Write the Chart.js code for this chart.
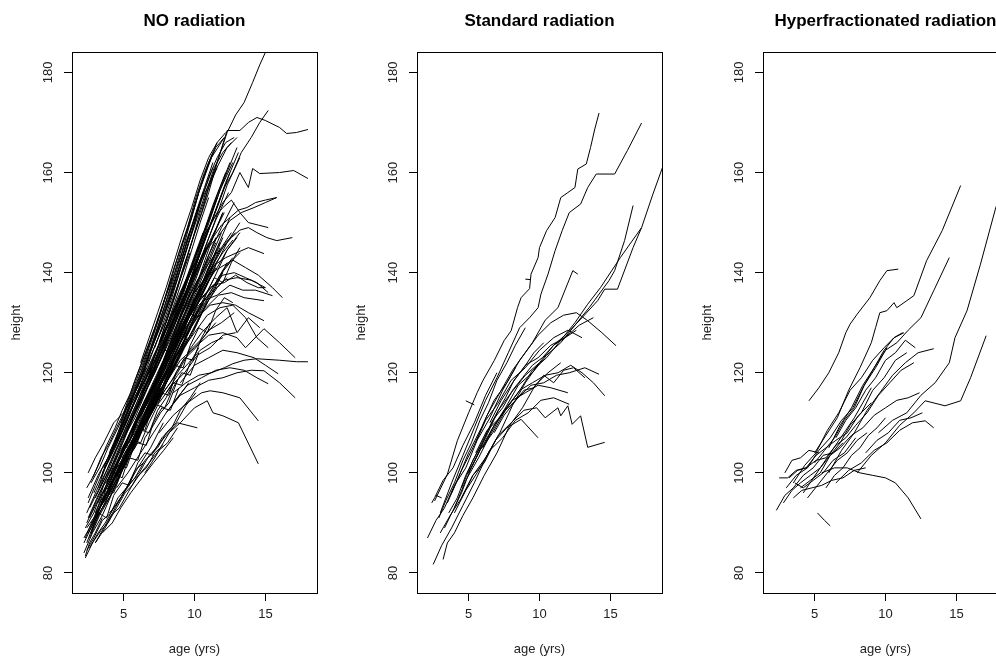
<!DOCTYPE html>
<html><head><meta charset="utf-8">
<script src="https://cdn.jsdelivr.net/npm/chart.js@4.4.0/dist/chart.umd.min.js"></script>
<style>
html,body{margin:0;padding:0;background:#fff;overflow:hidden;width:996px;height:659px;position:relative}
.p{position:absolute;top:0;width:345px;height:659px}
</style></head><body>
<div class="p" style="left:0"><canvas id="c1" width="345" height="659"></canvas></div>
<div class="p" style="left:340px"><canvas id="c2" width="345" height="659"></canvas></div>
<div class="p" style="left:680px"><canvas id="c3" width="345" height="659"></canvas></div>
<script>
const panelTitles = ['NO radiation', 'Standard radiation', 'Hyperfractionated radiation'];
const xTickValues = [5, 10, 15];
const yTickValues = [80, 100, 120, 140, 160, 180];

// ---- NO radiation: one row per child (ages in years, heights in cm) ----
const noRadAges = [
[2.2,2.8,3.5,4.2,5.0,5.9,6.8,7.6],
[2.4,3.0,3.7,4.5,5.3,6.1,7.0,8.0,9.0],
[2.3,2.9,3.6,4.4,5.2,6.0,6.9,7.8,8.8,9.7],
[2.5,3.2,4.0,4.8,5.6,6.5,7.4,8.3,9.2,10.1,11.0],
[2.6,3.3,4.1,5.0,5.8,6.7,7.6,8.5,9.5,10.4],
[2.2,2.9,3.5,4.3,5.1,6.0,6.8],
[2.7,3.4,4.2,5.0,5.9,6.8,7.7,8.6],
[3.0,3.7,4.5,5.4,6.2,7.1,8.0,9.0,9.9,10.8],
[2.4,3.1,3.9,4.7,5.6,6.5,7.3],
[3.2,4.0,4.8,5.7,6.6,7.5,8.4,9.3,10.2,11.1,12.0],
[2.8,3.5,4.3,5.1,6.0,6.9,7.9,8.8,9.7],
[3.5,4.3,5.2,6.1,7.0,7.9,8.8,9.7,10.6],
[2.5,3.2,3.9,4.7,5.5,6.3],
[3.3,4.1,4.9,5.8,6.7,7.6,8.5,9.5,10.5,11.5],
[4.0,4.8,5.7,6.6,7.5,8.4,9.3,10.2,11.1,12.0,13.0],
[4.2,5.0,5.9,6.8,7.7,8.6,9.6,10.6,11.5],
[3.8,4.6,5.5,6.4,7.3,8.2,9.1,10.0],
[4.5,5.3,6.2,7.1,8.0,8.9,9.8,10.7,11.6,12.5],
[5.0,5.8,6.7,7.6,8.5,9.4,10.3,11.2],
[4.8,5.6,6.5,7.4,8.3,9.2,10.1,11.0,11.9],
[5.5,6.3,7.2,8.1,9.0,9.9,10.8,11.7],
[5.2,6.0,6.9,7.8,8.7,9.6,10.5],
[6.0,6.8,7.7,8.6,9.5,10.4,11.3,12.2,13.1],
[5.8,6.6,7.5,8.4,9.3,10.2,11.1,12.0],
[6.3,7.1,8.0,8.9,9.8,10.7,11.6,12.5],
[6.5,7.3,8.2,9.1,10.0,10.9,11.8],
[6.8,7.6,8.5,9.4,10.3,11.2,12.1],
[7.0,7.8,8.7,9.6,10.5,11.4,12.3,13.2],
[7.2,8.0,8.9,9.8,10.7,11.6],
[7.5,8.3,9.2,10.1,11.0,11.9,12.8],
[7.8,8.6,9.5,10.4,11.3,12.2],
[8.0,8.8,9.7,10.6,11.5],
[8.3,9.1,10.0,10.9,11.8,12.7],
[8.5,9.3,10.2,11.1,12.0],
[4.0,4.8,5.6,6.5,7.4,8.3,9.2],
[3.0,3.8,4.6,5.5,6.4,7.3,8.2,9.1],
[2.4,3.1,3.8,4.6,5.4,6.3,7.2,8.1],
[2.9,3.6,4.4,5.2,6.1,7.0],
[3.6,4.4,5.2,6.1,7.0,7.9,8.8,9.7,10.6,11.5],
[4.6,5.4,6.3,7.2,8.1,9.0,9.9,10.8],
[5.6,6.4,7.3,8.2,9.1,10.0,10.9],
[6.1,6.9,7.8,8.7,9.6,10.5,11.4,12.3,13.2],
[6.6,7.4,8.3,9.2,10.1,11.0],
[7.4,8.2,9.1,10.0,10.9,11.8],
[3.4,4.2,5.0,5.9,6.8,7.7,8.6,9.5],
[2.6,3.3,4.0,4.8,5.6,6.5,7.4],
[5.3,6.1,7.0,7.9,8.8,9.7,10.6,11.5,12.4],
[4.4,5.2,6.1,7.0,7.9,8.8,9.7],
[8.8,9.6,10.5,11.4,12.3,13.2],
[9.0,9.8,10.7,11.6,12.5],
[5.0,5.8,6.7,7.6,8.5,9.4,10.3,11.2,12.1],
[6.0,6.8,7.7,8.6,9.5,10.4,11.3],
[7.0,7.8,8.7,9.6,10.5,11.4,12.3,13.0],
[7.5,8.1,8.7,9.3,9.9,10.5,11.1,11.7,12.3,12.9,13.5,14.1,14.6,15.0,15.5],
[8.0,8.6,9.2,9.8,10.4,11.0,11.6,12.3,13.2,13.8,14.4,15.0,16.0,16.5,17.2,18.0],
[8.5,9.1,9.7,10.3,10.9,11.5,12.1,12.7,13.3,14.0,14.6,15.2],
[7.8,8.4,9.0,9.6,10.2,10.8,11.4,12.0,12.6,13.2,13.8,14.1,14.6,16.0,17.0,18.0],
[9.0,9.6,10.2,10.8,11.4,12.0,12.6,13.2,13.8,14.4,15.1,15.8,16.9],
[9.5,10.1,10.7,11.3,11.9,12.5,13.1,13.7,14.3,15.0,15.8],
[10.2,10.8,11.4,12.0,12.6,13.2,13.8,14.5,15.2],
[8.0,8.9,9.8,10.7,11.6,12.5,13.4,14.3,15.5],
[8.5,9.4,10.3,11.2,12.1,13.0,14.0,15.0],
[9.0,9.9,10.8,11.7,12.6,13.5,14.9],
[9.3,10.2,11.1,12.0,12.9,13.8,14.9],
[8.2,9.1,10.0,10.9,11.8,12.7,13.6,14.4,15.2],
[10.0,10.9,11.8,12.7,13.6,14.5,15.5,16.2],
[8.0,9.0,10.0,11.0,12.0,13.0,13.6,14.9,16.0,17.1],
[8.5,9.4,10.3,11.2,12.1,12.7,13.5,14.4,16.0,17.2,18.0],
[8.0,9.0,10.0,11.0,12.0,13.0,14.0,14.9,16.0,17.1],
[9.0,10.0,11.0,12.0,13.0,14.2,15.0,15.9],
[8.5,9.5,10.5,11.5,12.5,13.5,14.4,15.2],
[7.5,8.5,9.5,10.5,11.1,12.0,13.2,14.5],
[7.0,8.0,9.0,10.0,10.9,11.3,12.0,13.1,14.5],
[6.5,7.2,7.8,8.3,8.8,10.2],
[9.5,10.5,11.5,12.3,13.0,13.8,14.6],
[10.5,11.3,12.1,12.9,13.7,14.5,15.0],
[9.6,10.4,11.2,12.0,12.8,13.6,14.4,15.2],
[9.0,9.8,10.6,11.4,12.2,13.0,13.8,14.9],
[10.0,10.8,11.6,12.5,13.3,14.2,15.0,15.8],
[7.5,8.4,9.3,10.2,11.1,12.0,12.9],
[8.0,8.8,9.6,10.4,11.2,12.0],
[6.5,7.4,8.3,9.2,10.1,11.0,11.9,12.8],
[7.0,7.9,8.8,9.7,10.6,11.5],
[2.5,3.0,3.6,4.3,5.0,5.8,6.6],
[2.7,3.3,3.9,4.6,5.4,6.2,7.0,7.9],
[3.5,4.2,4.8,5.5,6.3,7.1,7.8,8.5],
[3.0,3.7,4.4,5.2,6.0,6.9,7.8],
[2.3,2.6,3.0,3.5],
[4.5,5.3,6.2,7.1,8.0,8.8,9.6],
[2.3,2.8,3.4,3.9,4.5,5.1,5.6,6.2,6.8,7.5,8.1,8.8],
[2.6,3.2,3.7,4.3,4.9,5.5,6.1,6.8,7.4,8.0,8.7,9.4,10.1],
[3.0,3.6,4.1,4.7,5.3,5.9,6.6,7.2,7.8],
[2.4,2.9,3.5,4.1,4.6,5.2,5.8,6.4],
[4.0,4.6,5.2,5.8,6.5,7.1,7.7,8.4,9.0,9.7,10.4],
[2.2,2.7,3.2,3.8,4.3,4.9,5.4,6.0,6.6,7.2,7.8],
[2.5,3.0,3.5,4.1,4.6,5.2,5.8,6.3,6.9,7.5,8.2,8.8,9.5],
[2.8,3.3,3.9,4.4,5.0,5.6,6.2,6.8,7.4,8.0,8.7,9.3],
[3.1,3.7,4.2,4.8,5.4,6.0,6.6,7.3,7.9,8.5,9.2,9.9,10.5],
[2.4,2.9,3.4,4.0,4.5,5.1,5.7,6.3],
[3.4,4.0,4.5,5.1,5.7,6.3,6.9,7.5,8.1,8.8,9.4,10.1,10.8,11.5],
[4.2,4.8,5.3,5.9,6.5,7.1,7.7,8.3,9.0,9.6,10.3],
[4.7,5.2,5.8,6.4,7.0,7.6,8.2,8.9,9.5,10.2,10.9,11.6,12.3],
[5.1,5.7,6.3,6.9,7.5,8.1,8.7,9.4,10.0,10.7],
[5.6,6.2,6.8,7.4,8.0,8.6,9.3,9.9,10.6,11.3,12.0],
[6.0,6.6,7.2,7.9,8.5,9.1,9.8,10.4,11.1,11.8,12.5,13.2],
[6.5,7.1,7.7,8.4,9.0,9.6,10.3,11.0,11.6,12.3],
[3.0,3.5,4.1,4.6,5.2,5.8,6.4,7.0,7.6,8.2,8.9,9.5,10.2,10.9],
[3.6,4.2,4.7,5.3,5.9,6.5,7.1,7.7,8.4,9.0,9.7],
[2.3,2.8,3.3,3.9,4.4,5.0,5.5,6.1,6.7,7.3],
[4.4,5.0,5.5,6.1,6.7,7.3,7.9,8.6,9.2,9.9,10.6,11.3],
[5.3,5.9,6.5,7.1,7.8,8.4,9.0,9.7,10.4,11.1],
[7.0,7.6,8.2,8.9,9.5,10.2,10.9,11.6,12.3,13.0],
[7.5,8.1,8.8,9.4,10.1,10.8,11.5,12.2,12.9],
[6.2,6.8,7.4,8.0,8.7,9.3,10.0,10.7,11.4],
[3.9,4.5,5.0,5.6,6.2,6.8,7.4,8.0,8.7],
[2.6,3.1,3.7,4.2,4.8,5.3,5.9,6.5,7.1,7.7,8.3],
[4.9,5.5,6.1,6.7,7.3,7.9,8.6,9.2,9.9,10.6,11.3,12.0,12.7],
[8.0,8.6,9.3,9.9,10.6,11.3,12.0,12.7],
[8.5,9.1,9.8,10.5,11.2,11.9,12.6],
[2.5,3.0,3.5,4.1,4.6,5.2,5.7,6.3,6.9,7.5,8.1,8.7,9.3,9.9,10.5],
[3.2,3.7,4.3,4.8,5.4,5.9,6.5,7.1,7.7,8.3,8.9,9.5,10.1,10.7,11.3],
[4.0,4.6,5.1,5.7,6.2,6.8,7.4,8.0,8.6,9.2,9.8,10.4,11.0,11.6],
[4.8,5.3,5.9,6.5,7.1,7.7,8.3,8.9,9.5,10.1,10.7,11.3],
[5.5,6.1,6.7,7.3,7.9,8.5,9.1,9.7,10.3,10.9,11.5,12.1],
[2.8,3.3,3.8,4.4,4.9,5.5,6.0,6.6,7.2,7.8,8.4],
[3.6,4.1,4.7,5.2,5.8,6.4,7.0,7.6,8.2,8.8,9.4,10.0,10.6],
[6.2,6.8,7.4,8.0,8.6,9.2,9.8,10.4,11.0,11.6,12.2],
[5.0,5.6,6.2,6.8,7.4,8.0,8.6,9.2,9.8,10.4,11.0],
[6.8,7.4,8.0,8.6,9.2,9.8,10.4,11.0,11.6],
[7.2,7.8,8.4,9.0,9.6,10.2,10.8,11.4,12.0,12.6],
[4.4,5.0,5.5,6.1,6.7,7.3,7.9,8.5,9.1,9.7],
[2.4,2.9,3.4,4.0,4.5,5.1,5.6,6.2],
[8.0,8.6,9.2,9.8,10.4,11.0,11.6,12.2,12.8],
[3.3,3.8,4.3,4.9,5.4,6.0,6.5,7.1,7.6,8.2,8.8],
[4.1,4.6,5.2,5.7,6.3,6.8,7.4,8.0,8.5,9.1,9.7,10.3],
[5.4,5.9,6.5,7.0,7.6,8.2,8.7,9.3,9.9,10.5,11.1],
[6.3,6.9,7.4,8.0,8.6,9.2,9.7,10.3,10.9,11.5,12.1,12.7],
[2.7,3.2,3.8,4.3,4.9,5.4,6.0,6.5,7.1],
[4.6,5.1,5.7,6.2,6.8,7.4,7.9,8.5,9.1,9.7,10.3],
[7.3,7.9,8.4,9.0,9.6,10.2,10.8,11.4,12.0,12.6,13.2],
[3.8,4.3,4.9,5.4,6.0,6.6,7.1,7.7,8.3,8.9]
];
const noRadHeights = [
[84,88,91.5,96,101.5,106,112,117],
[86,90.5,94,99,104.5,109,115,120.5,127],
[89,92,97.5,101,106,111.5,117,122.5,130,136],
[91,95.5,100,105,110.5,116,121.5,128,134,140.5,146],
[93,97,102.5,108,113,119.5,125,131,138.5,144],
[87,90.5,94,99,103.5,108,112],
[88,92.5,96,101,106.5,111,116,121.5],
[95,99,104.5,110,115,121.5,127,133,139.5,145],
[92,96.5,101,106,112,117.5,122],
[94,99,104,109.5,115,120,126.5,132,138,145.5,152],
[90,94,98.5,103,108,113.5,118,124,129],
[100,105,110.5,116,122,128.5,134,141,148],
[95,99.5,103,108,113.5,118],
[97,101,106.5,111,117,122.5,128,134.5,140,147],
[103,108.5,114,119,125.5,131,137,144.5,151,158,165],
[100,105,110.5,115,121,126.5,132,138,144],
[98,103.5,108,113,118.5,124,129,135],
[106,111,117.5,123,129,135.5,141,148,155.5,162],
[107,112.5,118,124,130.5,136,143,150],
[104,109,114.5,119,125,130.5,136,142,148],
[110,115.5,121,127,133.5,140,147,154],
[105,110.5,115,120,126.5,132,137],
[113,118,124.5,130,137,144.5,151,158,164],
[112,117.5,122,128,134.5,140,146,152],
[116,121,127.5,133,139,146.5,153,160],
[112,117.5,122,128,133.5,139,145],
[118,123.5,129,135,141.5,147,152],
[115,120.5,125,131,136.5,141,146,150],
[122,128.5,134,141,148.5,155],
[120,125.5,131,137,143.5,149,154],
[126,132.5,139,146,153.5,160],
[123,128.5,134,140,146],
[129,135.5,142,149,156.5,162],
[125,130.5,136,141,147],
[97,101.5,106,111,116.5,121,126],
[92,97.5,102,107,113.5,118,124,130],
[90,94.5,99,104,109.5,115,120,126],
[96,100.5,105,110,116.5,121],
[96,100.5,104,109,114.5,119,125,130.5,136,141],
[102,107.5,112,118,124.5,131,138,145],
[108,113.5,119,125,131.5,138,145],
[110,114.5,119,124,129.5,134,139,144.5,148],
[114,119.5,125,131,137.5,143],
[118,123.5,128,134,140.5,146],
[99,104.5,109,115,121.5,127,133,139],
[87,91.5,95,100,105.5,110,115],
[109,114.5,120,126,132.5,138,144,150.5,156],
[105,110.5,116,122,128.5,134,140],
[130,136.5,143,150,157.5,163],
[128,133.5,139,145,151],
[112,118.5,125,132,140.5,148,156,163,167],
[117,123.5,130,138,146.5,154,161],
[125,131.5,138,146,154.5,160,165,167],
[126,131,136,141.5,147,152,158,163,168,171.5,174,178,181.5,184,187],
[130,135,140.5,146,151,156,162,168.4,168.4,170,171,170.4,169,167.8,168,168.6],
[129,133.5,138,143,148,152.5,157,160,164,167,170,172.4],
[125,129.5,134,139,143,147.5,151,154,156,160,157,160.8,159.8,160,160.4,158.8],
[131,135,138.5,141,143.5,145,147,148.5,149,148,147,146.4,147],
[137,140.5,144,147,149.5,151,152.5,153,154,154.5,155],
[144,148,151,153,154.5,152,150,149.5,149],
[122,127.5,130.5,134.5,135.5,137.5,136.5,136.5,135.4],
[124,129,133.5,136,138.5,139,138.5,137],
[126,130.5,133,135.5,136,135,134.4],
[127,131,133.5,134,133.5,132,130.4],
[120,124.5,128,131.5,133,133.5,131,127,125],
[136,139.5,141,142.5,141,139.5,137,135],
[118,122.5,125,127.5,128,127,125,128.8,126,123],
[116,118,119.5,120,121,121.8,122.5,122.8,122.5,122.2,122.2],
[112,115.5,117,118.5,119,120,120.5,120.4,118,115],
[118,121.5,123,124.5,124,123,121.5,119.8],
[114,117.5,119,120.5,121,120.5,119,117.8],
[108,111.5,114,116,116.4,116,115,110.4],
[104,107.5,110,113,114.4,112,111.4,110,101.8],
[100,103,106,108.4,110,109],
[124,128,131,133,128,131,129],
[135,137.5,138,139.5,138,137,137],
[131,134.5,137,139.5,140,139,138,136],
[131,135.5,138,141.5,143,144,145,143.8],
[140,144.5,147,150.4,152,153,154,155],
[114,117.5,120,123.5,125,127.5,128],
[116,119.5,122,124.5,126,127],
[110,114.5,118,122.5,125,128.5,130,132],
[112,116.5,120,124.5,127,130],
[100,103,106,110,112,116,121],
[98,101,105,109,114,119,124,130],
[88,90,93,96,99,102,104.4,107],
[86,89,93,97,101,105,110],
[83.4,86,88,91],
[97,100,104,108,112,115,118],
[83,86,88.5,90,93,96,97.5,100,102,104.5,106,109],
[85,88,90,93,95.5,98,100,103.5,105,108,110,113.5,116],
[86,89,91.5,93,96,99,101,104,105.5],
[84.5,87,90.5,92,95,97,100.5,102],
[92,94,97,99,102.5,104,107,109,112.5,115,118],
[86,89,92.5,95,98.5,101,104.5,108,111,114.5,117],
[88,90.5,94,96,99.5,103,106,109.5,112,116,119.5,123,127],
[90,93,95.5,99,102,105.5,108,112,115,119,122,126.5],
[92,95.5,98,101.5,104,108,111,115.5,118,122,126,130.5,134],
[89,91,94.5,97,100,103.5,106,110],
[94,97,100.5,103,107,110,114,117.5,121,125,128.5,133,137,141.5],
[98,101.5,104,107.5,110,114,117,121,125,128,132.5],
[100,103,106.5,109,112.5,116,119,123,126.5,130,134.5,138,142],
[104,107,110.5,113,117,120,123.5,127,131,134],
[105,108.5,111,114.5,118,121,125,128,132.5,136,140],
[108,111.5,115,118,122,125,129.5,132,136,139.5,142,144],
[110,113,117,120.5,124,127,131,134.5,137,139],
[90.5,93,96.5,99,102.5,105,109,112,116,119,123,126.5,130,134],
[96,99,102.5,106,108.5,112,115.5,119,122,126,129],
[87,90.5,93,96,99,101.5,105,108,111.5,114],
[101,104.5,107,111,114,118,121.5,125,129,133,136.5,140],
[106,109,113,116.5,120,124,127,131.5,135,139],
[116,119.5,123,127,130.5,134,138,141,144.5,147],
[120,123,127,130.5,135,139,142.5,146,148],
[112,115.5,119,122,126.5,130,134,138,142],
[97,100,103.5,106,110,113.5,116,120,123.5],
[91,94,97,100.5,103,106.5,110,113,117,120,124],
[103,106,109.5,112,116,119.5,123,126,130.5,134,137,140.5,143],
[122,126,129.5,133,137,141,144,146.5],
[126,129.5,133,137.5,141,145,148],
[94,97.5,101,104,108,112,116,120.5,125,130,135,140,145.5,150,155],
[97,101,104.5,109,113,117,121.5,126,131,136,141,146.5,152,157,162],
[104,108,112,116.5,120,125,130,135.5,140,146,151,157,162,166],
[110,114,118.5,123,128,133,138,144,149,155,160,164],
[114,118,123,128,133.5,139,144,150,156,161,165,167],
[99,102,105.5,109,112.5,116,120,124.5,129,134,139],
[101,104.5,108,112,116,120,125,129.5,134,139,144.5,150,156],
[122,127,132,137,142.5,148,153,158.5,163,166,168],
[107,111,115,119.5,124,129,134,139,144.5,150,155],
[120,125,130,135.5,141,146,152,157,161],
[125,130,135,140.5,146,151,156,161,164,166],
[106,110,113.5,117,121.5,126,130,135,139.5,144],
[97,99.5,103,106,109,112.5,115,118.5],
[133,138,143.5,149,154,159,163,166,167],
[93,97,96,100.5,103,102.5,107,109.5,112,114,118.5],
[99,101.5,101,105,108.5,108,112.5,115,118,117.5,122,125],
[106,109.5,108.5,113,116,115.5,120,123,122.5,127,130],
[110,114,113.5,118,121.5,121,125.5,129,128,132.5,135,134],
[88,92,91,95.5,98,97.5,102,104,103.5],
[101,103,106.5,106,110,113.5,113,117,120,119.5,124],
[121,124.5,124,128.5,132,131,135.5,139,138,142,145],
[96,100,99,103.5,106,105.5,110,113,112.5,117]
];

// ---- Standard radiation ----
const stdRadAges = [
[2.6,3.5,4.2,5.0,5.6,6.0,6.8,7.5,8.0,8.45,8.7,9.3,9.4,9.9,10.0,10.5,11.1,11.5,12.0,12.5,12.7,13.3,13.6,13.9,14.2],
[3.0,3.8,4.6,5.4,6.2,7.0,7.8,8.6,9.3,9.9,10.1,10.6,11.1,11.6,12.1,12.9,13.4,14.0,15.3,16.2,17.2],
[4.5,5.3,6.2,7.1,8.0,9.0,10.0,11.0,12.0,13.0,14.1,14.6,15.5,16.6,17.2,18.0,18.8],
[5.0,5.8,6.7,7.6,8.5,9.5,10.5,11.5,12.5,13.5,14.9,15.3,16.0,16.6],
[4.0,4.8,5.7,6.6,7.5,8.5,9.5,10.5,11.5,12.5,13.4,14.3,15.7,17.2],
[3.5,4.2,5.0,5.9,6.8,7.7,8.6,9.5,10.4,11.3,12.35,12.7],
[5.5,6.3,7.2,8.1,9.0,9.9,10.8,11.7,12.6,13.4,14.4,15.4],
[5.0,5.8,6.7,7.6,8.5,9.4,10.3,11.2,12.1,13.2,14.2],
[6.0,6.8,7.7,8.6,9.5,10.4,11.3,12.2,13.0,13.8,14.6],
[4.5,5.3,6.2,7.1,8.0,8.9,9.8,10.4,11.3,11.5,12.0,12.3,12.9,13.4,14.6],
[3.0,3.7,4.5,5.3,6.1,6.9,7.7,8.7,9.9],
[4.0,4.8,5.6,6.5,7.4,8.3,9.2,10.1,11.0,12.1],
[5.5,6.3,7.2,8.1,9.0,9.9,10.8,12.0],
[2.1,2.7,3.3,4.0,4.8,5.6,6.5,7.4,8.3],
[2.5,3.1,3.8,4.6,5.4,6.3,7.2,8.1,9.0,10.0],
[3.2,3.5,4.0,4.6,5.3,6.1,7.0,7.9,8.8,9.7,10.6,11.5],
[2.4,2.6,3.2,3.9,4.6,5.4,6.2,7.0],
[9.0,9.4],
[2.7,3.1],
[4.8,5.4],
[3.8,4.5,5.3,6.2,7.1,8.0,9.0,10.0,11.0,12.0,13.0],
[6.5,7.3,8.1,9.0,9.9,10.8,11.8,12.8,13.8],
[2.9,3.4,4.0,4.6,5.2,5.8,6.4,7.0,7.7,8.3,9.0],
[3.3,3.9,4.5,5.1,5.7,6.3,6.9,7.6,8.2,8.9,9.6,10.3],
[3.6,4.2,4.8,5.4,6.1,6.7,7.4,8.1,8.8,9.5,10.2,11.0,11.8,12.6],
[6.8,7.5,8.2,8.9,9.6,10.3,11.0,11.7,12.4,13.2]
];
const stdRadHeights = [
[94.4,99.7,106.4,112,116,118.4,122.4,126.4,128.4,133,135,136.8,139.7,143,145,148.4,151,155,156,157,160.7,161.7,165,168.7,171.9],
[92,98,103.5,109,114.5,119,124,129,131,133,135.7,139.7,144.4,148.4,152,153.7,157,159.7,159.7,164.4,169.9],
[97,102.5,107,112.5,116,119.5,122,125.5,128,131,134.4,136.7,136.7,145,149,155.7,162],
[100,104.5,109,113,117.5,120,123.5,126,129.5,133,138.4,140.4,146.4,153.4],
[93,98.5,103,108,112.5,116,120.5,123,126.5,130,133.7,137,143,149],
[94,98.5,104,109,114.5,118,122.5,126,130.5,133,140.4,139.7],
[106,111.5,116,120.5,124,127.5,130,131.5,132,130.4,128,125.4],
[100,104.5,108,112.5,115,117.5,118,119.5,120,121,119.7],
[105,109.5,113,116.5,118,119.5,120,121.5,120,118,115.4],
[95,99.5,103,107.5,110,112.5,113,111,113,111.4,113.4,109.7,111.4,105.1,106.1],
[88,91.5,95,99.5,102,106.5,109,110.7,107],
[92,96.5,100,104.5,107,110.5,112,114.5,115,113.7],
[104,108.5,111,114.5,116,117.5,117,116],
[87,90.5,93,97.5,101,106.5,111,116.5,121],
[81.7,85.5,89,93.5,98,103.5,108,113.5,118,122],
[82.7,86,88,91.5,95,99.5,104,109.5,113,117.5,120,122],
[94,95,98.5,101,105.5,110,115.5,120],
[138.7,138.6],
[95.5,95],
[114.4,113.6],
[96,100.5,105,110.5,114,118.5,121,124.5,127,128.5,127],
[110,114.5,118,121.5,123,125.5,127,129.5,131],
[91,94.5,98,102.5,106,110.5,114,118.5,122,125.5,129],
[89,92.5,96,100.5,104,108,111.5,115,118.5,121,124,126],
[92,95,99.5,103,107,110.5,113,116.5,119,121.5,123,125.5,127,128.5],
[108,111.5,114,116.5,117,119.5,118,120.5,121,119]
];

// ---- Hyperfractionated radiation ----
const hypRadAges = [
[5.0,5.8,6.6,7.4,8.2,9.0,9.3,9.6,10.1,10.6,10.8,11.5,12.0,12.9,14.0,15.3],
[9.5,10.5,11.5,12.5,13.5,14.5,14.9,15.75,16.7,17.75,18.6],
[8.0,9.0,10.0,11.0,12.0,12.8,14.2,15.3,16.0,17.1],
[6.0,6.8,7.6,8.4,9.2,10.0,10.8,11.6,12.5,13.4,14.5],
[4.6,5.3,6.0,6.7,7.2,7.5,8.0,8.9,9.6,10.1,10.9],
[5.5,6.4,7.3,8.2,9.1,10.0,10.7,11.6,12.5],
[5.2,5.7,6.1],
[6.5,7.4,8.3,9.2,10.1,11.0,11.9,12.8,13.4],
[6.0,6.9,7.8,8.7,9.6,10.5,11.4,12.3,13.4],
[3.5,4.3,5.1,5.9,6.7,7.5,8.3,9.1,9.9,10.6,11.2],
[3.0,3.7,4.5,5.3,6.1,6.9,7.7,8.5,9.3,10.1],
[2.3,2.9,3.5,4.2,4.9,5.6,6.3,7.0],
[2.5,3.1,3.7,4.4,5.1,5.8,6.5,7.3,8.1,9.0],
[2.8,3.4,4.0,4.7,5.4,6.1,6.8,7.6,8.4,9.2,10.0,10.8,11.6,12.4],
[3.5,4.1,4.8,5.5,6.2,7.0,7.8,8.6],
[4.0,4.7,5.4,6.1,6.8,7.5,8.3,9.1,9.9,10.7,11.5],
[4.5,5.2,5.9,6.6,7.3,8.0,8.7],
[5.0,5.7,6.4,7.1,7.8,8.5,9.2,9.9,10.6,11.3],
[2.9,3.4,4.0,4.6,5.3],
[3.2,3.8,4.4,5.1,5.8,6.5,7.2,7.9,8.7,9.5,10.3,11.1,12.0],
[6.5,7.2,7.9,8.6,9.3,10.0,10.7,11.4,12.1],
[3.6,4.2,4.9,5.6,6.3,7.1,7.9],
[8.6,9.4,10.2,11.0,11.8,12.6],
[4.2,4.8,5.4,6.0,6.6,7.2,7.8,8.4,9.0],
[5.8,6.4,7.0,7.6,8.2,8.8,9.4,10.0]
];
const hypRadHeights = [
[104,107.5,111,116.5,121,126,129,132,132.4,134,133,134.4,135.4,142.4,148.4,157.4],
[108,110.5,112,115.5,118,122,127,132.4,141.7,152.7,160],
[100,103.5,106,109.5,112,114.4,113.4,114.4,119,127.4],
[105,109.5,113,117.5,121,124.5,126,128.5,131,136.4,143],
[114.4,117,120,124,128,129.7,131.7,135,138.4,140.4,140.7],
[100,101,101,100,99.5,99,98,95,90.8],
[92,90.5,89.4],
[98,100.5,102,104.5,106,108.5,110,110.4,109],
[100,104.5,108,112.5,116,119.5,122,124,124.8],
[98,101.5,104,108.5,112,116.5,119,122.5,125,127,128],
[97,99.5,101,104.5,107,110.5,113,117.5,121,125],
[92.5,95.5,97,99.5,101,103.5,104,106],
[99,99,100.5,101,103.5,105,106.5,108,111.5,114],
[94,96.5,98,99.5,101,103.5,105,107.5,109,111.5,113,114.5,115,116],
[95,96.5,97,97.5,98.5,99,100.5,101],
[97,98.5,100,103.5,106,109.5,112,116.5,119,122.5,124],
[95,97.5,100,102.5,104,106.5,108],
[102,104.5,107,110.5,113,117.5,121,124.5,127,128],
[100,102.5,103,104.5,104],
[99,100.5,101,102.5,103,105.5,107,109.5,112,115.5,118,120.5,122],
[107,110.5,113,116.5,119,122.5,124,126.5,125],
[98,97,98.5,100,102.5,104,107],
[104,106.5,108,110.5,111,112],
[96,98.5,101,103.5,106,108.5,111,114,117],
[97,99.5,101,103.5,105,107.5,109,111]
];

const FONT = '"Liberation Sans", Arial, Helvetica, sans-serif';
const boxPlugin = {
  id: 'box',
  afterDraw(chart) {
    const a = chart.chartArea, ctx = chart.ctx;
    ctx.save();
    ctx.strokeStyle = '#000';
    ctx.lineWidth = 1;
    ctx.strokeRect(Math.round(a.left) + 0.5, Math.round(a.top) + 0.5, Math.round(a.right - a.left), Math.round(a.bottom - a.top));
    ctx.restore();
  }
};

function makePanel(id, title, ages, heights, padL, padR) {
  const datasets = ages.map((row, i) => ({
    data: row.map((x, j) => ({x: x, y: heights[i][j]})),
    borderColor: '#000', borderWidth: 1, pointRadius: 0, pointHoverRadius: 0,
    fill: false, tension: 0
  }));
  const gridOpts = {display: true, drawOnChartArea: false, drawTicks: true, tickLength: 8, color: '#000', lineWidth: 1};
  new Chart(document.getElementById(id), {
    type: 'line',
    data: {datasets: datasets},
    plugins: [boxPlugin],
    options: {
      responsive: false, animation: false, devicePixelRatio: 1,
      events: [],
      layout: {padding: {left: padL, right: padR, top: 0, bottom: 0}},
      plugins: {
        legend: {display: false}, tooltip: {enabled: false},
        title: {display: true, text: title, fullSize: false, color: '#000',
          font: {family: FONT, size: 17, weight: 'bold'}, padding: {top: 11, bottom: 21}}
      },
      scales: {
        x: {
          type: 'linear', min: 1.36, max: 18.64,
          afterBuildTicks: s => { s.ticks = xTickValues.map(v => ({value: v})); },
          afterFit: s => { s.height = 66; },
          grid: gridOpts,
          border: {display: true, color: '#000', width: 1},
          ticks: {font: {family: FONT, size: 13}, color: '#222', padding: 6, maxRotation: 0, minRotation: 0, autoSkip: false},
          title: {display: true, text: 'age (yrs)', color: '#222', font: {family: FONT, size: 13}, padding: {top: 0, bottom: 2}}
        },
        y: {
          type: 'linear', min: 76, max: 184,
          afterBuildTicks: s => { s.ticks = yTickValues.map(v => ({value: v})); },
          afterFit: s => { s.width = 65; },
          grid: gridOpts,
          border: {display: true, color: '#000', width: 1},
          ticks: {font: {family: FONT, size: 13}, color: '#222', padding: 5, minRotation: 90, maxRotation: 90, crossAlign: 'center', autoSkip: false},
          title: {display: true, text: 'height', color: '#222', font: {family: FONT, size: 13}, padding: {top: 2, bottom: 0}}
        }
      }
    }
  });
}

makePanel('c1', panelTitles[0], noRadAges, noRadHeights, 7, 28);
makePanel('c2', panelTitles[1], stdRadAges, stdRadHeights, 12, 23);
makePanel('c3', panelTitles[2], hypRadAges, hypRadHeights, 18, 17);
</script>
</body></html>
